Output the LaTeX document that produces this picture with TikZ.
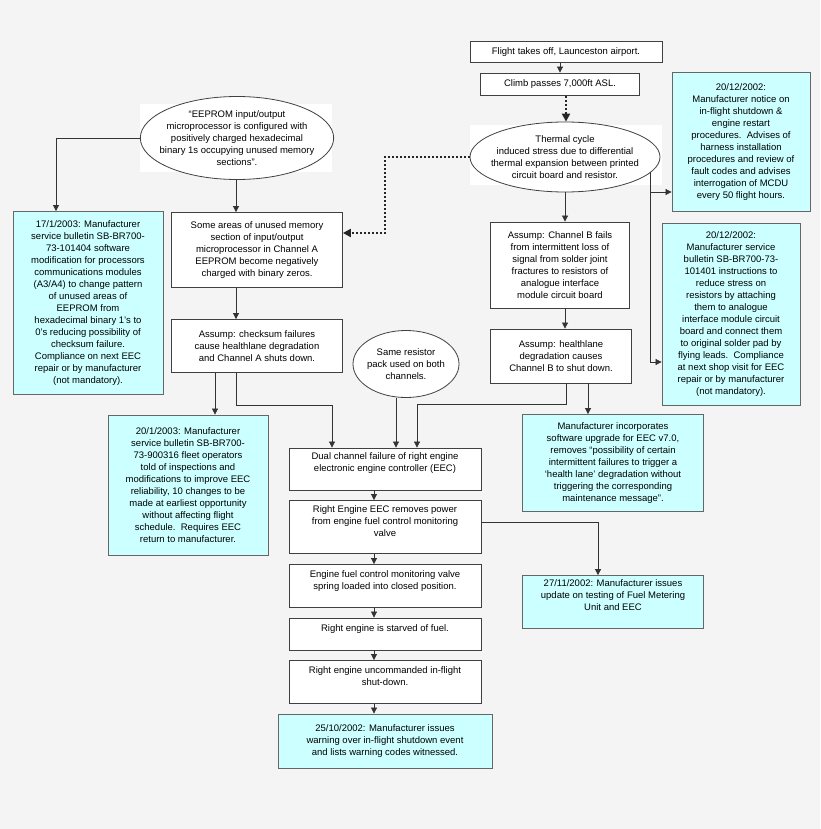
\documentclass[tikz,border=0pt]{standalone}
\usepackage{fontspec}
\setmainfont{Liberation Sans}
\usetikzlibrary{shapes.geometric,arrows.meta}
\definecolor{bg}{HTML}{F4F4F4}
\definecolor{cy}{HTML}{CCFFFF}
\begin{document}
\begin{tikzpicture}[x=1pt,y=-1pt,
  every node/.style={font=\fontsize{9.5}{12}\selectfont,align=center,inner sep=1pt},
  box/.style={draw=black!75,fill=white,line width=0.8pt,minimum width=#1,rectangle},
  note/.style={draw=black!60,fill=cy,line width=0.8pt,minimum width=#1,rectangle},
  ell/.style={draw=black!75,fill=white,ellipse,line width=0.8pt,inner xsep=-9pt,inner ysep=-6pt},
  arr/.style={-{Triangle[length=6pt,width=6pt]},line width=0.7pt,black!80},
  dot/.style={-{Triangle[length=8pt,width=8pt]},line width=2.2pt,dash pattern=on 2pt off 2pt,black!85}]
\fill[bg] (0,0) rectangle (820,829);
\useasboundingbox (0,0) rectangle (820,829);

\node[box=192pt,minimum height=21pt] (fl) at (566,52) {Flight takes off, Launceston airport.};
\node[box=159pt,minimum height=22pt] (cl) at (560,84) {Climb passes 7,000ft ASL.};
\fill[white] (470,125) rectangle (662,185);
\node[ell,minimum width=190pt,minimum height=70pt] (th) at (565,157) {Thermal cycle\\induced stress due to differential\\thermal expansion between printed\\circuit board and resistor.};
\node[note=138pt,minimum height=139pt] (n1) at (741,142) {20/12/2002:\\Manufacturer notice on\\in-flight shutdown \&\\engine restart\\procedures.\ \ Advises of\\harness installation\\procedures and review of\\fault codes and advises\\interrogation of MCDU\\every 50 flight hours.};
\node[note=138pt,minimum height=182pt] (n2) at (731,314) {20/12/2002:\\Manufacturer service\\bulletin SB-BR700-73-\\101401 instructions to\\reduce stress on\\resistors by attaching\\them to analogue\\interface module circuit\\board and connect them\\to original solder pad by\\flying leads.\ \ Compliance\\at next shop visit for EEC\\repair or by manufacturer\\(not mandatory).};
\node[box=139pt,minimum height=86pt] (ab) at (560,265) {Assump: Channel B fails\\from intermittent loss of\\signal from solder joint\\fractures to resistors of\\analogue interface\\module circuit board};
\node[box=141pt,minimum height=54pt] (hb) at (561,356) {Assump: healthlane\\degradation causes\\Channel B to shut down.};

\fill[white] (140,104) rectangle (332,172);
\node[ell,minimum width=193pt,minimum height=83pt] (ee) at (237,138) {``EEPROM input/output\\microprocessor is configured with\\positively charged hexadecimal\\binary 1s occupying unused memory\\sections''.};
\node[note=150pt,minimum height=183pt] (n3) at (88,303) {17/1/2003: Manufacturer\\service bulletin SB-BR700-\\73-101404 software\\modification for processors\\communications modules\\(A3/A4) to change pattern\\of unused areas of\\EEPROM from\\hexadecimal binary 1's to\\0's reducing possibility of\\checksum failure.\\Compliance on next EEC\\repair or by manufacturer\\(not mandatory).};
\node[box=171pt,minimum height=75pt] (sa) at (257,250) {Some areas of unused memory\\section of input/output\\microprocessor in Channel A\\EEPROM become negatively\\charged with binary zeros.};
\node[box=171pt,minimum height=53pt] (ca) at (257,346) {Assump: checksum failures\\cause healthlane degradation\\and Channel A shuts down.};
\node[ell,minimum width=106pt,minimum height=67pt] (sr) at (406,364) {Same resistor\\pack used on both\\channels.};
\node[note=160pt,minimum height=140pt] (n4) at (188,485) {20/1/2003: Manufacturer\\service bulletin SB-BR700-\\73-900316 fleet operators\\told of inspections and\\modifications to improve EEC\\reliability, 10 changes to be\\made at earliest opportunity\\without affecting flight\\schedule.\ \ Requires EEC\\return to manufacturer.};

\node[box=192pt,minimum height=42pt] (dc) at (385,469) {Dual channel failure of right engine\\electronic engine controller (EEC)\\[-2pt]\strut};
\node[box=192pt,minimum height=53pt] (re) at (385,527) {Right Engine EEC removes power\\from engine fuel control monitoring\\valve\\[-3pt]\strut};
\node[box=192pt,minimum height=43pt] (ef) at (385,586) {Engine fuel control monitoring valve\\spring loaded into closed position.\\[-3pt]\strut};
\node[box=192pt,minimum height=32pt] (rs) at (385,634) {Right engine is starved of fuel.\\[-3pt]\strut};
\node[box=192pt,minimum height=43pt] (ru) at (385,682) {Right engine uncommanded in-flight\\shut-down.\\[-3pt]\strut};
\node[note=214pt,minimum height=54pt] (n5) at (385,741) {25/10/2002: Manufacturer issues\\warning over in-flight shutdown event\\and lists warning codes witnessed.};
\node[note=181pt,minimum height=97pt] (n6) at (613,463) {Manufacturer incorporates\\software upgrade for EEC v7.0,\\removes ``possibility of certain\\intermittent failures to trigger a\\`health lane' degradation without\\triggering the corresponding\\maintenance message''.};
\node[note=181pt,minimum height=53pt] (n7) at (613,602) {27/11/2002: Manufacturer issues\\update on testing of Fuel Metering\\Unit and EEC\\[-2pt]\strut};

\coordinate (tj) at (650,172);
\draw[arr] (fl.south -| cl.north) -- (cl.north);
\draw[dot] (566,96) -- (th.north -| 566,0);
\draw[arr] (th.south) -- (ab.north -| th.south);
\draw[arr] (ab.south -| 565,0) -- (hb.north -| 565,0);
\draw[line width=0.7pt,black!80] (tj) -- (650,362);
\draw[arr] (650,192) -- (n1.west |- 650,192);
\draw[arr] (650,362) -- (n2.west |- 650,362);
\draw[dot] (th.west) -- (385,157) -- (385,233) -- (sa.east |- 385,233);
\draw[arr] (ee.west) -- (56,138) -- (n3.north -| 56,0);
\draw[arr] (ee.south -| 236,0) -- (sa.north -| 236,0);
\draw[arr] (sa.south -| 236,0) -- (ca.north -| 236,0);
\draw[arr] (ca.south -| 215,0) -- (n4.north -| 215,0);
\draw[arr] (ca.south -| 236,0) -- (236,405) -- (332,405) -- (dc.north -| 332,0);
\draw[arr] (sr.south -| 396,0) -- (dc.north -| 396,0);
\draw[arr] (hb.south -| 566,0) -- (566,404) -- (417,404) -- (dc.north -| 417,0);
\draw[arr] (hb.south -| 588,0) -- (n6.north -| 588,0);
\draw[arr] (dc.south -| 374,0) -- (re.north -| 374,0);
\draw[arr] (re.south -| 374,0) -- (ef.north -| 374,0);
\draw[arr] (ef.south -| 374,0) -- (rs.north -| 374,0);
\draw[arr] (rs.south -| 374,0) -- (ru.north -| 374,0);
\draw[arr] (ru.south -| 374,0) -- (n5.north -| 374,0);
\draw[arr] (re.east |- 0,522) -- (598,522) -- (n7.north -| 598,0);
\end{tikzpicture}
\end{document}
